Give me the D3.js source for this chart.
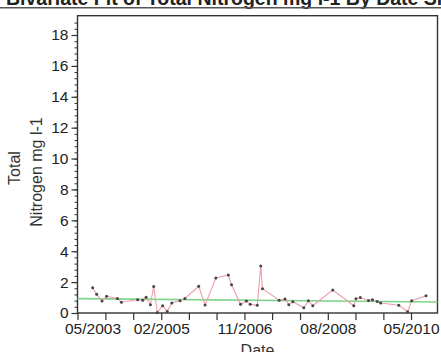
<!DOCTYPE html>
<html>
<head>
<meta charset="utf-8">
<script src="https://cdn.jsdelivr.net/npm/d3@7"></script>
<style>
  body { margin:0; background:#fff; }
  svg { display:block; }
</style>
</head>
<body>
<div id="graph"></div>
<script>
// --- data ---
let sample_dates = ["2003-08-25","2003-09-25","2003-11-05","2003-12-10","2004-03-02","2004-04-02",
  "2004-08-04","2004-09-12","2004-10-08","2004-11-10","2004-12-05","2005-01-02","2005-02-12",
  "2005-03-19","2005-04-23","2005-06-25","2005-08-01","2005-11-15","2006-01-03","2006-03-27",
  "2006-06-30","2006-07-25","2006-10-02","2006-11-16","2006-12-15","2007-02-07","2007-03-06",
  "2007-03-19","2007-07-25","2007-09-08","2007-10-07","2007-11-07","2008-01-30","2008-03-05",
  "2008-04-08","2008-09-08","2009-02-16","2009-03-05","2009-04-07","2009-06-09","2009-07-09",
  "2009-08-15","2009-09-10","2010-01-27","2010-04-05","2010-05-06","2010-08-24"];
let nitrogen = [1.64,1.21,0.78,1.08,0.94,0.70,
  0.86,0.83,1.02,0.54,1.72,0.03,0.47,
  0.10,0.65,0.80,0.94,1.73,0.52,2.27,
  2.46,1.83,0.56,0.78,0.56,0.50,3.04,
  1.57,0.83,0.91,0.54,0.73,0.34,0.79,
  0.47,1.49,0.47,0.93,1.00,0.81,0.85,
  0.74,0.65,0.50,0.08,0.79,1.11];
// linear fit, ends of the line
let fit_dates = ["2003-05-01","2010-11-20"];
let fit_values = [0.93,0.71];
// axes
let x_domain = ["2003-05-01","2010-11-20"];
let y_domain = [0,19.25];
let x_label_ticks = ["05/2003","02/2005","11/2006","08/2008","05/2010"];
let y_label_ticks = [0,2,4,6,8,10,12,14,16,18];

let parseDate = d3.timeParse("%Y-%m-%d");
let fmt = d3.timeFormat("%m/%Y");

let width = 441, height = 352;
let margin = {left:77.5, right:3.5, top:15.7, bottom:39};

let svg = d3.select("#graph").append("svg")
    .attr("width",width)
    .attr("height",height);

let x = d3.scaleTime()
    .domain(x_domain.map(parseDate))
    .range([margin.left, width - margin.right]);
let y = d3.scaleLinear()
    .domain(y_domain)
    .range([height - margin.bottom, margin.top]);

// title (cut off at the top, like the scan)
svg.append("text")
    .attr("x",6).attr("y",5)
    .style("font-family","'Liberation Sans', Arial, sans-serif")
    .style("font-weight","bold")
    .style("font-size","19.5px")
    .style("fill","#222")
    .text("Bivariate Fit of Total Nitrogen mg l-1 By Date Site");
svg.append("line")
    .attr("x1",0).attr("x2",width)
    .attr("y1",7.8).attr("y2",7.8)
    .attr("stroke","#555").attr("stroke-width",1.5);

// x ticks every 7 months from 05/2003, label every third
let start = parseDate(x_domain[0]);
let allTicks = d3.range(0,13).map(k => d3.timeMonth.offset(start, 7*k));
let xAxis = d3.axisBottom(x)
    .tickValues(allTicks)
    .tickSize(7)
    .tickSizeOuter(0)
    .tickFormat(d => x_label_ticks.indexOf(fmt(d)) >= 0 ? fmt(d) : "");
let gx = svg.append("g")
    .attr("transform","translate(0,"+(height - margin.bottom)+")")
    .call(xAxis);
gx.select(".domain").remove();
gx.selectAll("line").attr("stroke","#333").attr("stroke-width",1.2);
gx.selectAll("text")
    .attr("dy","0.71em").attr("y",10)
    .style("font-family","'Liberation Sans', Arial, sans-serif")
    .style("font-size","15.5px")
    .style("fill","#222");
// first label nudged right so it fits
gx.selectAll("text").filter(d => fmt(d) == "05/2003").attr("x",15);

// y axis minor + major ticks
let gyMinor = svg.append("g")
    .attr("transform","translate("+margin.left+",0)")
    .call(d3.axisLeft(y).tickValues(d3.range(0,19.2,0.4)).tickSize(3).tickFormat(""));
gyMinor.select(".domain").remove();
gyMinor.selectAll("line").attr("stroke","#333");
let gy = svg.append("g")
    .attr("transform","translate("+margin.left+",0)")
    .call(d3.axisLeft(y).tickValues(y_label_ticks).tickSize(6).tickPadding(3));
gy.select(".domain").remove();
gy.selectAll("line").attr("stroke","#333").attr("stroke-width",1.2);
gy.selectAll("text")
    .style("font-family","'Liberation Sans', Arial, sans-serif")
    .style("font-size","15.5px")
    .style("fill","#222");

// frame
svg.append("rect")
    .attr("x",margin.left).attr("y",margin.top)
    .attr("width",width - margin.left - margin.right)
    .attr("height",height - margin.top - margin.bottom)
    .attr("fill","none")
    .attr("stroke","#333").attr("stroke-width",1.4);

// axis titles
svg.append("text")
    .attr("transform","translate(19.5,168) rotate(-90)")
    .style("text-anchor","middle")
    .style("font-family","'Liberation Sans', Arial, sans-serif")
    .style("font-size","16px")
    .style("fill","#333")
    .text("Total");
svg.append("text")
    .attr("transform","translate(41.5,172) rotate(-90)")
    .style("text-anchor","middle")
    .style("font-family","'Liberation Sans', Arial, sans-serif")
    .style("font-size","16px")
    .style("fill","#333")
    .text("Nitrogen mg l-1");
svg.append("text")
    .attr("x",(margin.left + width - margin.right)/2)
    .attr("y",356)
    .style("text-anchor","middle")
    .style("font-family","'Liberation Sans', Arial, sans-serif")
    .style("font-size","16px")
    .style("fill","#333")
    .text("Date");

// fit line
let fitData = fit_dates.map((d,i) => ({date:parseDate(d), value:fit_values[i]}));
svg.append("path")
    .datum(fitData)
    .attr("fill","none")
    .attr("stroke","#7fd38c")
    .attr("stroke-width",1.6)
    .attr("d", d3.line().x(d => x(d.date)).y(d => y(d.value)));

// data line + points
let pts = sample_dates.map((d,i) => ({date:parseDate(d), value:nitrogen[i]}));
svg.append("path")
    .datum(pts)
    .attr("fill","none")
    .attr("stroke","#eda0aa")
    .attr("stroke-width",1.1)
    .attr("d", d3.line().x(d => x(d.date)).y(d => y(d.value)));
svg.selectAll(".pt").data(pts)
    .enter().append("circle")
    .attr("class","pt")
    .attr("cx", d => x(d.date))
    .attr("cy", d => y(d.value))
    .attr("r",1.5)
    .attr("fill","#444");
</script>
</body>
</html>
